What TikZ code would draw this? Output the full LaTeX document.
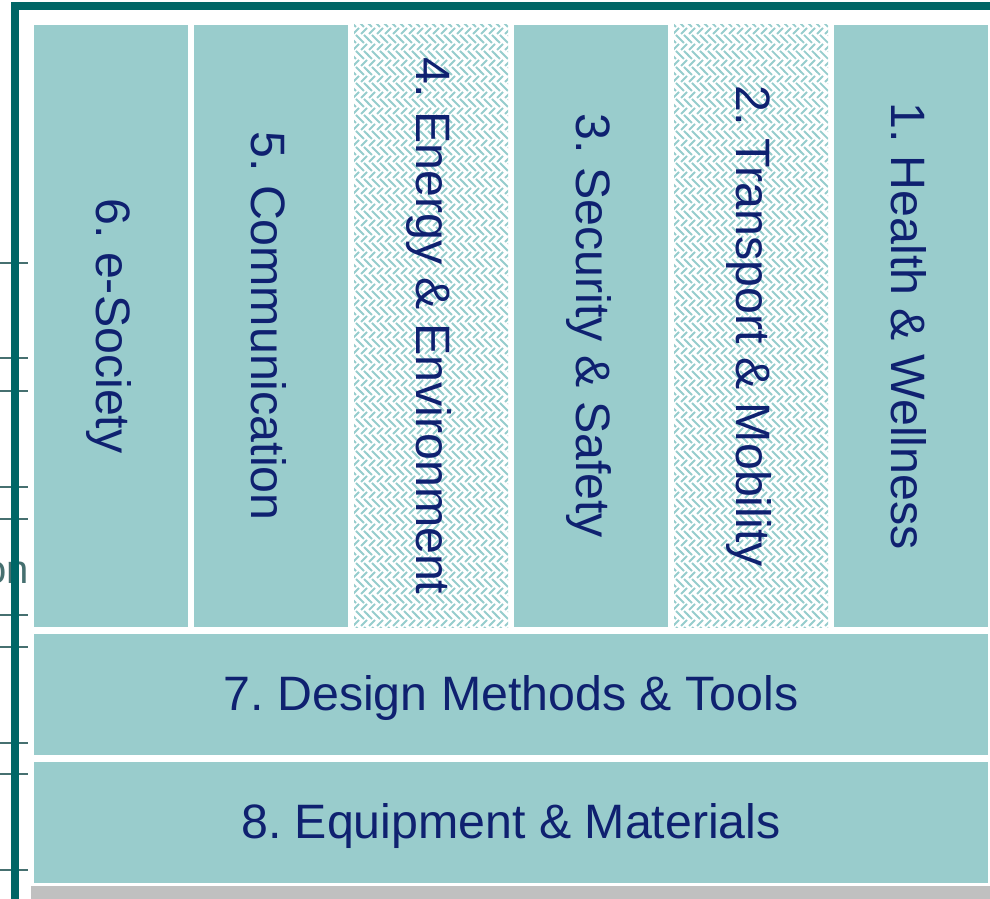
\documentclass[tikz,border=0pt]{standalone}
\usepackage{fontspec}
\setmainfont{Liberation Sans}
\usetikzlibrary{patterns}
\frenchspacing
\definecolor{frameteal}{RGB}{0,102,102}
\definecolor{tickteal}{RGB}{70,112,112}
\definecolor{boxteal}{RGB}{153,204,204}
\definecolor{weaveteal}{RGB}{150,205,205}
\definecolor{navy}{RGB}{15,33,112}
\definecolor{barsilver}{RGB}{192,192,192}
\pgfdeclarepatternformonly{weave}{\pgfpoint{-1pt}{-1pt}}{\pgfpoint{17pt}{17pt}}{\pgfpoint{16pt}{16pt}}{
  \pgfsetlinewidth{1.8pt}
  \pgfpathmoveto{\pgfpoint{1pt}{1pt}}\pgfpathlineto{\pgfpoint{7pt}{7pt}}
  \pgfpathmoveto{\pgfpoint{9pt}{1pt}}\pgfpathlineto{\pgfpoint{15pt}{7pt}}
  \pgfpathmoveto{\pgfpoint{4pt}{16pt}}\pgfpathlineto{\pgfpoint{12pt}{8pt}}
  \pgfpathmoveto{\pgfpoint{-4pt}{16pt}}\pgfpathlineto{\pgfpoint{4pt}{8pt}}
  \pgfpathmoveto{\pgfpoint{12pt}{16pt}}\pgfpathlineto{\pgfpoint{20pt}{8pt}}
  \pgfusepath{stroke}
}
\tikzset{
  colbox/.style={draw=none, fill=boxteal, minimum width=154pt, minimum height=602pt, inner sep=0pt, outer sep=0pt},
  weavebox/.style={colbox, fill=white, postaction={pattern=weave, pattern color=weaveteal}},
  rowbox/.style={draw=none, fill=boxteal, minimum width=954pt, minimum height=121pt, inner sep=0pt, outer sep=0pt},
  labeltext/.style={text=navy, font=\fontsize{48.3}{58}\selectfont, inner sep=0pt},
  coltext/.style={labeltext, rotate=-90},
  tickline/.style={draw=tickteal, line width=1.6pt},
}
\begin{document}
\begin{tikzpicture}[x=1pt,y=-1pt]
\useasboundingbox (0,0) rectangle (990,899);
\fill[white] (0,0) rectangle (990,899);
% ticks on the left
\foreach \ty [count=\i] in {263,358,391,487,519,615,647,743,774,870}{
  \coordinate (tl\i) at (0,\ty);
  \coordinate (tr\i) at (28,\ty);
  \draw[tickline] (tl\i) -- (tr\i);
}
\node[anchor=base east, text=tickteal, font=\fontsize{40}{48}\selectfont, inner sep=0pt] (clipped) at (29,583) {on};
% frame
\fill[frameteal] (11,2) rectangle (19,899);
\fill[frameteal] (11,2) rectangle (990,10);
% columns
\node[colbox]   (c6) at (111,326) {};
\node[colbox]   (c5) at (271,326) {};
\node[weavebox] (c4) at (431,326) {};
\node[colbox]   (c3) at (591,326) {};
\node[weavebox] (c2) at (751,326) {};
\node[colbox]   (c1) at (911,326) {};
\node[coltext] (t6) at ([xshift=-2pt]c6.center) {6. e-Society};
\node[coltext] (t5) at ([xshift=-2pt]c5.center) {5. Communication};
\node[coltext] (t4) at ([xshift=-2pt]c4.center) {4. Energy \& Environment};
\node[coltext] (t3) at ([xshift=-2pt]c3.center) {3. Security \& Safety};
\node[coltext] (t2) at ([xshift=-2pt]c2.center) {2. Transport \& Mobility};
\node[coltext] (t1) at ([xshift=-2pt]c1.center) {1. Health \& Wellness};
% rows
\node[rowbox] (r7) at (511,694.5) {};
\node[rowbox] (r8) at (511,822.5) {};
\node[labeltext] (t7) at ([yshift=-4pt]r7.center) {7. Design Methods \& Tools};
\node[labeltext] (t8) at ([yshift=-4pt]r8.center) {8. Equipment \& Materials};
% bottom bar
\fill[barsilver] (31,886) rectangle (990,899);
\end{tikzpicture}
\end{document}
